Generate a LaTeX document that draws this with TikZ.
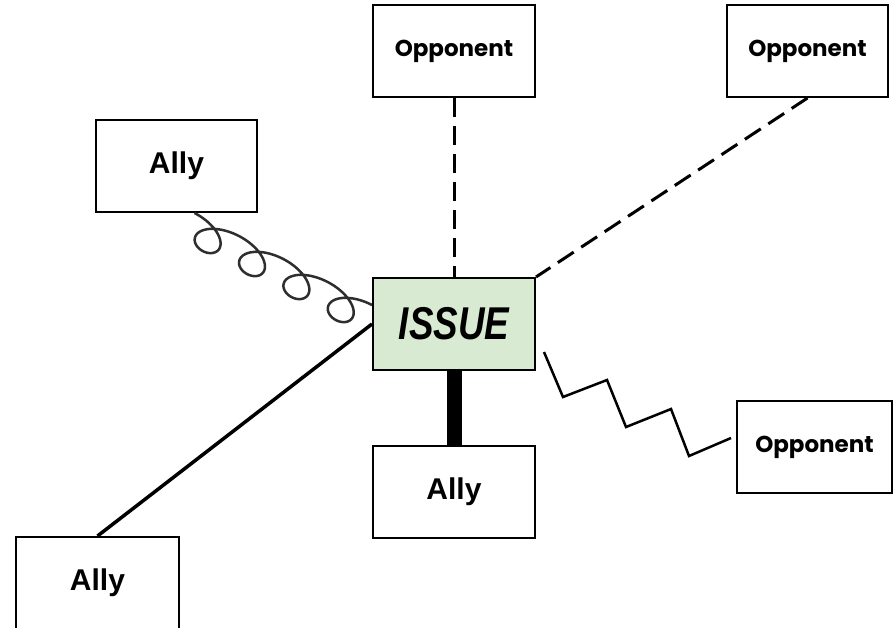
\documentclass[tikz,border=0pt]{standalone}
\usepackage{fontspec}
\setmainfont{Liberation Sans}
\newfontfamily\geofont{Poppins}
\usetikzlibrary{calc}

\definecolor{issuegreen}{HTML}{D9EAD3}
\definecolor{coilgray}{HTML}{2E2E2E}

\tikzset{
  box/.style={draw=black, line width=2pt, fill=white, minimum width=162pt,
    minimum height=92pt, inner sep=0pt, anchor=center},
  oppbox/.style={box, font=\geofont\bfseries\fontsize{23}{26}\selectfont},
  allybox/.style={box, font=\bfseries\fontsize{30}{34}\selectfont},
  issuebox/.style={box, fill=issuegreen},
  issuetext/.style={font=\bfseries\itshape\fontsize{46}{50}\selectfont},
  dashlink/.style={line width=3pt, dash pattern=on 19pt off 9pt},
  plainlink/.style={line width=3.5pt},
  heavylink/.style={line width=15pt},
  coillink/.style={line width=2.5pt, draw=coilgray, line join=round},
  ziglink/.style={line width=2.5pt, line join=miter},
}

\begin{document}
\begin{tikzpicture}[x=1pt, y=-1pt]
  \useasboundingbox (0,0) rectangle (893,628);

  % boxes
  \node[oppbox]  (opTop) at (454,51)    {Opponent};
  \node[oppbox, minimum width=161pt] (opTR) at (807.5,51) {Opponent};
  \node[oppbox, minimum width=155pt] (opR)  at (814.5,447) {Opponent};
  \node[allybox, minimum width=161pt] (allyTL) at (176.5,166) {Ally};
  \node[allybox] (allyBC) at (454,492) {Ally};
  \node[allybox, minimum width=163pt] (allyBL) at (97.5,583) {Ally};
  \node[issuebox] (issue) at (454,324) {};

  % links
  \draw[dashlink] (opTop.south) -- (issue.north);
  \draw[dashlink] (opTR.south) -- (issue.north east);
  \draw[plainlink] (allyBL.north) -- (issue.west);
  \draw[heavylink] (issue.south) -- (allyBC.north);

  % looped link: a prolate trochoid laid along the line from cs to ce
  \coordinate (cs) at ($(allyTL.south)+(18,0)$);
  \coordinate (ce) at ($(issue.west)+(0,-19)$);
  \draw[coillink] (cs)
    \foreach \i [evaluate=\i as \t using -pi+\i*pi/60] in {1,...,480} {
      -- ($(cs)!{((\t+pi)-3.1*sin(\t r))/(8*pi)}!(ce)!{-15pt*cos(\t r)-15pt}!90:(ce)$)
    };

  \draw[ziglink] ($(issue.east)+(8,28)$) -- ++(19,45) -- ++(44,-17) -- ++(19,47)
    -- ++(45,-18) -- ++(18,47) -- ($(opR.west)+(-5,-9)$);

  % the central box again, over the link ends, with its label
  \node[issuebox] at (issue.center)
    {\scalebox{0.8}[1]{\tikzset{}\bfseries\itshape\fontsize{46}{50}\selectfont ISSUE}};
\end{tikzpicture}
\end{document}
